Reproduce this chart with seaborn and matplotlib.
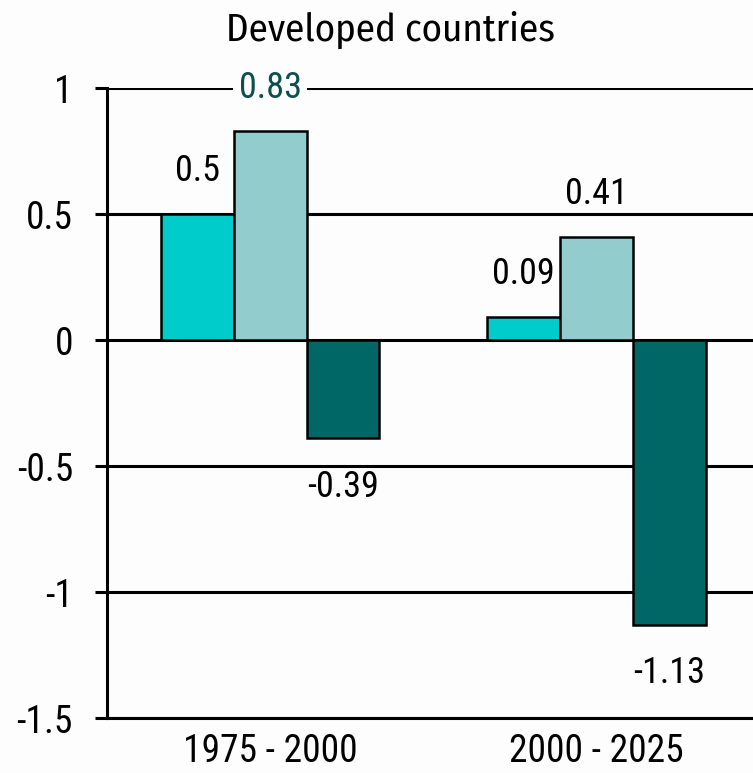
import matplotlib
matplotlib.use("Agg")
import matplotlib.pyplot as plt
import seaborn as sns
import pandas as pd

periods = ["1975 - 2000", "2000 - 2025"]
components = ["A", "B", "C"]
values_a = [0.5, 0.09]
values_b = [0.83, 0.41]
values_c = [-0.39, -1.13]
colors = ["#00CCCC", "#93CCCC", "#006666"]
yticks = [1, 0.5, 0, -0.5, -1, -1.5]
ytick_labels = ["1", "0.5", "0", "-0.5", "-1", "-1.5"]

rows = []
for comp, vals in zip(components, [values_a, values_b, values_c]):
    for p, v in zip(periods, vals):
        rows.append({"period": p, "component": comp, "value": v})
df = pd.DataFrame(rows)

sns.set_theme(style="white")
plt.rcParams["font.family"] = ["Roboto Condensed", "PT Sans Narrow", "DejaVu Sans"]
plt.rcParams["text.color"] = "black"
plt.rcParams["xtick.color"] = "black"
plt.rcParams["ytick.color"] = "black"

bg = "#FDFDFD"
fig = plt.figure(figsize=(7.53, 7.73), dpi=100)
fig.patch.set_facecolor(bg)
ax = fig.add_axes([0.142, 0.071, 0.858, 0.815])
ax.set_facecolor(bg)

ax.set_ylim(-1.5, 1)
ax.set_yticks(yticks)
ax.set_yticklabels(ytick_labels)
for y in yticks:
    ax.axhline(y, color="black", lw=2.2, zorder=1)

sns.barplot(data=df, x="period", y="value", hue="component",
            palette=colors, width=0.67, edgecolor="black", linewidth=1.8,
            legend=False, ax=ax, zorder=3, saturation=1)
ax.set_xlim(-0.5, 1.48)

# value labels above positive bars, below negative ones
for container in ax.containers:
    for bar in container:
        val = bar.get_height()
        x = bar.get_x() + bar.get_width() / 2
        off = 31 if val >= 0 else -35
        is_light = abs(val - 0.83) < 1e-6
        ax.annotate(f"{val:g}", (x, val), xytext=(0, off), textcoords="offset points",
                    ha="center", va="center", fontsize=26,
                    color="#0B4F4F" if is_light else "black",
                    bbox=dict(facecolor=bg, edgecolor="none", pad=4) if is_light else None,
                    zorder=5)

for s in ["top", "right"]:
    ax.spines[s].set_visible(False)
for s in ["left", "bottom"]:
    ax.spines[s].set_color("black")
    ax.spines[s].set_linewidth(2.2)
ax.tick_params(axis="y", left=True, length=8.5, width=2.2, color="black", labelsize=27, pad=16)
ax.tick_params(axis="x", bottom=False, labelsize=27, pad=5)
ax.set_xlabel("")
ax.set_ylabel("")
fig.text(390 / 753, 1 - 30 / 773, "Developed countries", ha="center", va="center",
         fontsize=28, family=["Fira Sans Condensed", "Roboto Condensed", "DejaVu Sans"])

fig.savefig("out.png", dpi=100, facecolor=fig.get_facecolor())
